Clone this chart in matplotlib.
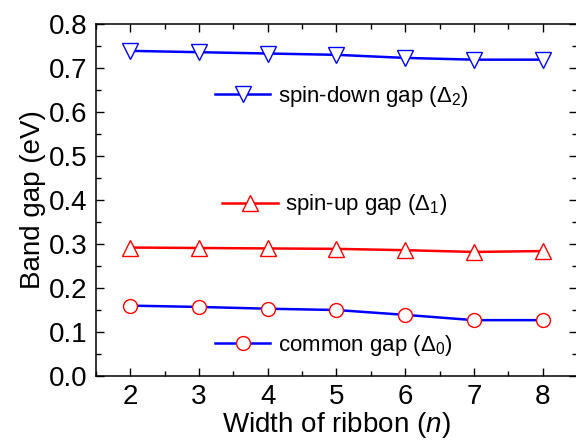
import numpy as np
import matplotlib.pyplot as plt
from matplotlib.ticker import MultipleLocator

plt.rcParams['font.family'] = ['Liberation Sans', 'DejaVu Sans']
plt.rcParams['mathtext.fontset'] = 'custom'
plt.rcParams['mathtext.rm'] = 'Liberation Sans'
plt.rcParams['mathtext.it'] = 'Liberation Sans:italic'

# width of ribbon n
n = [2, 3, 4, 5, 6, 7, 8]
# band gaps (eV)
spin_down = [0.739, 0.736, 0.733, 0.730, 0.723, 0.719, 0.719]
spin_up = [0.292, 0.291, 0.290, 0.289, 0.286, 0.282, 0.284]
common = [0.160, 0.157, 0.153, 0.150, 0.139, 0.127, 0.127]

fig = plt.figure(figsize=(5.76, 4.45), dpi=100)
ax = fig.add_axes([0.1667, 0.155, 0.835, 0.791])

l_down, = ax.plot(n, spin_down, color='#0000ff', lw=1.8, marker='v', ms=11,
                  mfc='white', mec='#0000ff', mew=1.0)
l_up, = ax.plot(n, spin_up, color='#ff0000', lw=1.8, marker='^', ms=11,
                mfc='white', mec='#ff0000', mew=1.0)
l_com, = ax.plot(n, common, color='#0000ff', lw=1.8, marker='o', ms=10,
                 mfc='white', mec='#ff0000', mew=1.0)

ax.set_xlim(1.5, 8.5)
ax.set_ylim(0.0, 0.8)
ax.xaxis.set_major_locator(MultipleLocator(1))
ax.xaxis.set_minor_locator(MultipleLocator(0.5))
ax.yaxis.set_major_locator(MultipleLocator(0.1))
ax.yaxis.set_minor_locator(MultipleLocator(0.05))
ax.set_yticklabels(['%.1f' % v for v in ax.get_yticks()])
ax.tick_params(which='both', direction='in', top=True, right=True, labelsize=20, width=1)
ax.tick_params(which='major', length=6, pad=6)
ax.tick_params(which='minor', length=3.5)
for s in ax.spines.values():
    s.set_linewidth(1.1)

ax.set_xlabel('Width of ribbon ($\\mathit{n}$)', fontsize=20, labelpad=0)
ax.set_ylabel('Band gap (eV)', fontsize=20, labelpad=2)

kw = dict(frameon=False, fontsize=16, numpoints=1, handlelength=2.5,
          handletextpad=0.35, borderpad=0, borderaxespad=0, loc='center left')
leg1 = ax.legend([l_down], ['spin-down gap ($\\Delta_2$)'], bbox_to_anchor=(0.247, 0.794), **kw)
ax.add_artist(leg1)
leg2 = ax.legend([l_up], ['spin-up gap ($\\Delta_1$)'], bbox_to_anchor=(0.262, 0.486), **kw)
ax.add_artist(leg2)
ax.legend([l_com], ['common gap ($\\Delta_0$)'], bbox_to_anchor=(0.247, 0.088), **kw)

fig.savefig('out.png', dpi=100)
